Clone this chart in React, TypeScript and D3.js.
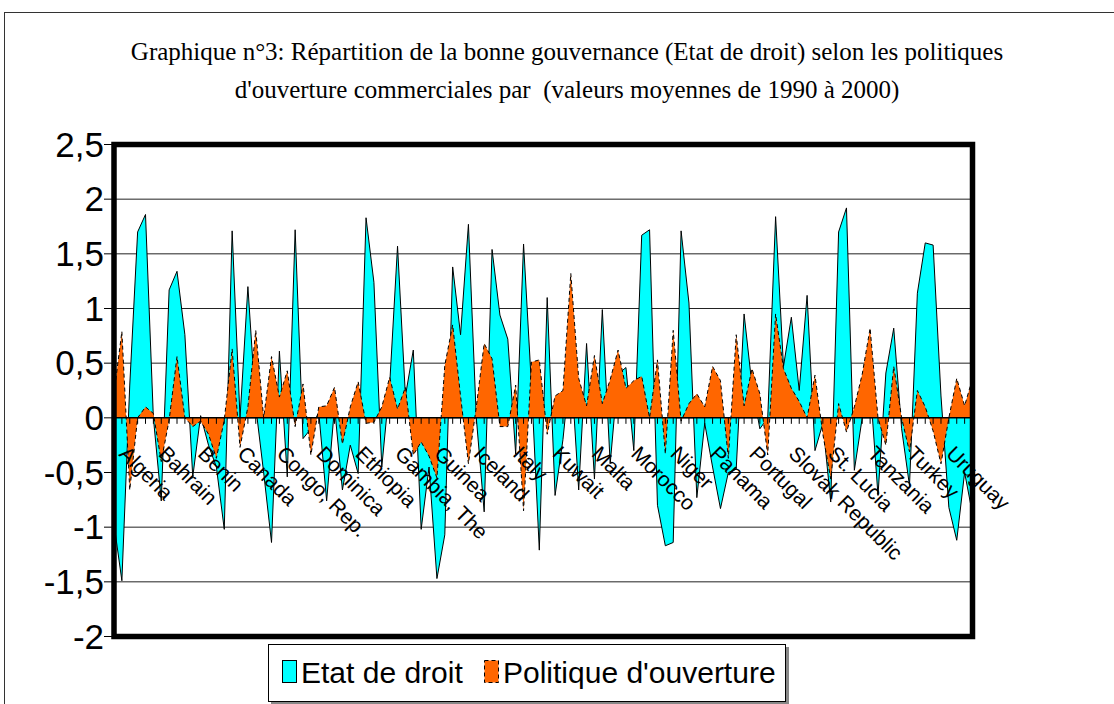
import React from "react";
import * as d3 from "d3";

const categories: string[] = [
  "Algeria", "Argentina", "Australia", "Austria", "Bahamas, The",
  "Bahrain", "Bangladesh", "Barbados", "Belgium", "Belize",
  "Benin", "Bolivia", "Botswana", "Brazil", "Cameroon",
  "Canada", "Central African Republic", "Chile", "China", "Colombia",
  "Congo, Rep.", "Costa Rica", "Cote d'Ivoire", "Cyprus", "Denmark",
  "Dominica", "Dominican Republic", "Ecuador", "Egypt, Arab Rep.", "El Salvador",
  "Ethiopia", "Fiji", "Finland", "France", "Gabon",
  "Gambia, The", "Germany", "Ghana", "Greece", "Guatemala",
  "Guinea", "Guinea-Bissau", "Guyana", "Haiti", "Honduras",
  "Iceland", "India", "Indonesia", "Ireland", "Israel",
  "Italy", "Jamaica", "Japan", "Jordan", "Kenya",
  "Kuwait", "Lesotho", "Madagascar", "Malawi", "Malaysia",
  "Malta", "Mauritania", "Mauritius", "Mexico", "Mongolia",
  "Morocco", "Mozambique", "Netherlands", "New Zealand", "Nicaragua",
  "Niger", "Nigeria", "Norway", "Oman", "Pakistan",
  "Panama", "Papua New Guinea", "Paraguay", "Peru", "Philippines",
  "Portugal", "Romania", "Rwanda", "Senegal", "Sierra Leone",
  "Slovak Republic", "South Africa", "Spain", "Sri Lanka", "St. Kitts and Nevis",
  "St. Lucia", "St. Vincent and the Grenadines", "Sweden", "Switzerland", "Syrian Arab Republic",
  "Tanzania", "Thailand", "Togo", "Trinidad and Tobago", "Tunisia",
  "Turkey", "Uganda", "Ukraine", "United Kingdom", "United States",
  "Uruguay", "Venezuela, RB", "Yemen, Rep.", "Zambia", "Zimbabwe",
];

const etatDeDroit: number[] = [
  -0.97, -1.49, 0.3, 1.7, 1.86, 0.0, -0.76, 1.17, 1.34, 0.76,
  -0.54, 0.02, -0.25, -0.45, -1.02, 1.71, 0.0, 1.2, 0.1, -0.5,
  -1.14, 0.61, -0.54, 1.72, -0.19, -0.1, 0.05, -0.76, 0.1, -0.66,
  -0.25, -0.51, 1.83, 1.24, -0.45, 0.3, 1.57, 0.2, 0.62, -1.02,
  -0.45, -1.47, -1.07, 1.38, 0.76, 1.77, 0.0, -0.86, 1.54, 0.94,
  0.72, -0.33, 1.59, 0.3, -1.21, 1.1, -0.71, -0.2, 0.5, -0.66,
  0.68, -0.56, 0.99, -0.42, 0.4, 0.46, -0.3, 1.67, 1.72, -0.8,
  -1.17, -1.14, 1.71, 1.05, -0.73, -0.05, -0.45, -0.83, -0.5, -0.47,
  0.95, 0.3, -0.1, 0.0, 1.84, 0.47, 0.92, 0.25, 1.12, -0.3,
  -0.05, -0.77, 1.7, 1.92, -0.48, 0.0, 0.3, -0.71, 0.41, 0.82,
  -0.1, -0.62, 1.14, 1.6, 1.58, 0.2, -0.82, -1.12, -0.5, -0.88,
];

const politiqueOuverture: number[] = [
  0.22, 0.79, -0.66, 0.0, 0.1, 0.04, -0.4, -0.02, 0.56, 0.0,
  -0.08, -0.03, -0.15, -0.37, -0.02, 0.63, -0.27, 0.1, 0.8, 0.0,
  0.56, 0.19, 0.43, -0.08, 0.31, -0.34, 0.1, 0.11, 0.28, -0.24,
  0.1, 0.33, -0.05, -0.04, 0.1, 0.37, 0.08, 0.28, -0.34, -0.22,
  -0.35, -0.55, 0.48, 0.85, 0.2, -0.42, 0.1, 0.68, 0.54, -0.08,
  -0.08, 0.3, -0.85, 0.51, 0.53, -0.15, 0.2, 0.25, 1.32, 0.36,
  0.11, 0.57, 0.13, 0.35, 0.62, 0.27, 0.34, 0.38, 0.0, 0.53,
  -0.33, 0.8, -0.03, 0.13, 0.22, 0.1, 0.47, 0.34, -0.37, 0.76,
  0.11, 0.45, 0.22, -0.34, 0.95, 0.45, 0.27, 0.15, 0.0, 0.39,
  -0.15, -0.56, 0.13, -0.13, 0.1, 0.4, 0.82, 0.0, -0.25, 0.47,
  0.0, -0.31, 0.25, 0.1, -0.12, -0.42, 0.0, 0.36, 0.11, 0.36,
];

const yTicks: number[] = [2.5, 2, 1.5, 1, 0.5, 0, -0.5, -1, -1.5, -2];
const yTickLabels: string[] = ["2,5", "2", "1,5", "1", "0,5", "0", "-0,5", "-1", "-1,5", "-2"];
const titleLines: string[] = [
  "Graphique n°3: Répartition de la bonne gouvernance (Etat de droit) selon les politiques",
  "d'ouverture commerciales par  (valeurs moyennes de 1990 à 2000)",
];
const seriesNames: string[] = ["Etat de droit", "Politique d'ouverture"];
const labelEvery = 5;

export default function App() {
  const W = 1114, H = 704;
  const left = 114, right = 972.5, top = 144.5, bottom = 636.5;
  const x = d3.scalePoint<string>().domain(categories).range([left, right]).padding(0);
  const y = d3.scaleLinear().domain([-2, 2.5]).range([bottom, top]);
  const idx = categories.map((_, i) => i);

  const areaGen = (vals: number[]) =>
    d3.area<number>()
      .x((i) => x(categories[i]) as number)
      .y0(y(0))
      .y1((i) => y(vals[i]))(idx) as string;
  const lineGen = (vals: number[]) =>
    d3.line<number>()
      .x((i) => x(categories[i]) as number)
      .y((i) => y(vals[i]))(idx) as string;

  const cyan = "#00FFFF";
  const orange = "#FF6600";

  return (
    <svg width={W} height={H} style={{ position: "absolute", left: 0, top: 0, background: "#fff" }}>
      <rect x={4.5} y={12.5} width={W + 20} height={H + 20} fill="#fff" stroke="#333" strokeWidth={1} />
      {titleLines.map((t, i) => (
        <text key={i} x={567} y={60 + i * 38} textAnchor="middle" xmlSpace="preserve"
          fontFamily="'Liberation Serif', 'Times New Roman', serif" fontSize={25} fill="#000">{t}</text>
      ))}
      {/* gridlines */}
      {yTicks.map((v) => (
        <line key={"g" + v} x1={left} x2={right} y1={y(v)} y2={y(v)} stroke="#222" strokeWidth={1} />
      ))}
      {/* areas */}
      <path d={areaGen(etatDeDroit)} fill={cyan} stroke="none" />
      <path d={lineGen(etatDeDroit)} fill="none" stroke="#000" strokeWidth={1} strokeLinejoin="miter" />
      <path d={areaGen(politiqueOuverture)} fill={orange} stroke="none" />
      <path d={lineGen(politiqueOuverture)} fill="none" stroke="#000" strokeWidth={1} strokeDasharray="4,3" />
      {/* zero axis */}
      <line x1={left} x2={right} y1={y(0)} y2={y(0)} stroke="#000" strokeWidth={1.5} />
      {categories.map((c) => (
        <line key={"t" + c} x1={x(c)} x2={x(c)} y1={y(0)} y2={y(0) + 6} stroke="#000" strokeWidth={1} />
      ))}
      {/* plot border */}
      <rect x={left} y={top} width={right - left} height={bottom - top} fill="none" stroke="#000" strokeWidth={5.5} />
      {/* y ticks & labels */}
      {yTicks.map((v, i) => (
        <g key={"y" + v}>
          <line x1={left - 10} x2={left} y1={y(v)} y2={y(v)} stroke="#000" strokeWidth={1} />
          <text x={104} y={y(v) + 12} textAnchor="end" fontFamily="'Liberation Sans', Arial, sans-serif"
            fontSize={35} fill="#000">{yTickLabels[i]}</text>
        </g>
      ))}
      {/* category labels */}
      {categories.map((c, i) =>
        i % labelEvery === 0 ? (
          <text key={"c" + c} transform={`translate(${(x(c) as number) + 4},${455}) rotate(45)`}
            fontFamily="'Liberation Sans', Arial, sans-serif" fontSize={21} fill="#000">{c}</text>
        ) : null
      )}
      {/* legend */}
      <rect x={271} y={647} width={518} height={58} fill="#888" />
      <rect x={268.5} y={644.5} width={517} height={57} fill="#fff" stroke="#000" strokeWidth={1} />
      <rect x={282.5} y={660.5} width={14} height={22} fill={cyan} stroke="#000" strokeWidth={1} />
      <text x={301} y={683} fontFamily="'Liberation Sans', Arial, sans-serif" fontSize={30} fill="#000">{seriesNames[0]}</text>
      <rect x={484.5} y={660.5} width={14} height={22} fill={orange} stroke="#000" strokeWidth={1} strokeDasharray="4,3" />
      <text x={503} y={683} fontFamily="'Liberation Sans', Arial, sans-serif" fontSize={30} fill="#000">{seriesNames[1]}</text>
    </svg>
  );
}
